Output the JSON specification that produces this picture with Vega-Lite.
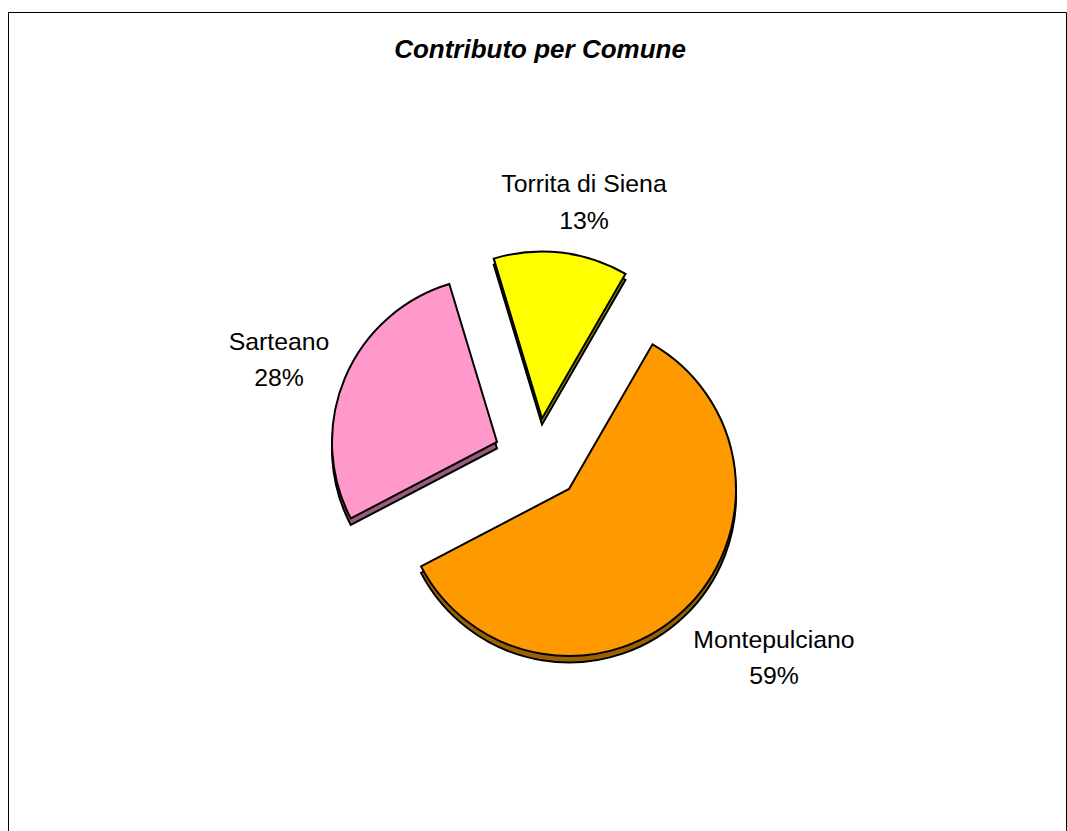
{
"$schema":"https://vega.github.io/schema/vega-lite/v6.json",
"width":1058,"height":819,
"autosize":"none",
"padding":{"left":8,"top":12,"right":1,"bottom":0},
"background":"white",
"view":{"stroke":"black","strokeWidth":1,"fill":"white"},
"title":{"text":"Contributo per Comune","font":"Liberation Sans","fontSize":26,"fontStyle":"italic","fontWeight":"bold","color":"black","offset":-51,"anchor":"middle","dx":3},
"data":{"values":[
{"comune":"Montepulciano","valore":59,"pct":"59%"},
{"comune":"Sarteano","valore":28,"pct":"28%"},
{"comune":"Torrita di Siena","valore":13,"pct":"13%"}
]},
"transform":[{"stack":"valore","sort":[{"field":"valore","order":"descending"}],"groupby":[],"as":["s0","s1"]}],
"layer":[
{"encoding":{
 "theta":{"field":"s0","type":"quantitative","scale":{"domain":[0,100],"range":[0.5236,6.8068]}},
 "theta2":{"field":"s1"}
 },
 "layer":[
 {"transform":[{"filter":"datum.comune==='Montepulciano'"}],"mark":{"type":"arc","outerRadius":167,"xOffset":32,"yOffset":74,"fill":"#996100","stroke":"black","strokeWidth":2}},
 {"transform":[{"filter":"datum.comune==='Montepulciano'"}],"mark":{"type":"arc","outerRadius":167,"xOffset":32,"yOffset":67.5,"fill":"#FF9900","stroke":"black","strokeWidth":2}},
 {"transform":[{"filter":"datum.comune==='Sarteano'"}],"mark":{"type":"arc","outerRadius":165,"xOffset":-40,"yOffset":27,"fill":"#995C7A","stroke":"black","strokeWidth":2}},
 {"transform":[{"filter":"datum.comune==='Sarteano'"}],"mark":{"type":"arc","outerRadius":165,"xOffset":-40,"yOffset":20.5,"fill":"#FF99CC","stroke":"black","strokeWidth":2}},
 {"transform":[{"filter":"datum.comune==='Torrita di Siena'"}],"mark":{"type":"arc","outerRadius":167,"xOffset":5,"yOffset":3,"fill":"#999900","stroke":"black","strokeWidth":2}},
 {"transform":[{"filter":"datum.comune==='Torrita di Siena'"}],"mark":{"type":"arc","outerRadius":167,"xOffset":5,"yOffset":-3,"fill":"#FFFF00","stroke":"black","strokeWidth":2}}
 ]},
{"transform":[{"filter":"datum.comune==='Montepulciano'"}],"mark":{"type":"text","font":"Liberation Sans","fontSize":24.8,"color":"black","xOffset":237,"yOffset":219,"baseline":"middle"},"encoding":{"text":{"field":"comune"}}},
{"transform":[{"filter":"datum.comune==='Montepulciano'"}],"mark":{"type":"text","font":"Liberation Sans","fontSize":24.8,"color":"black","xOffset":237,"yOffset":255,"baseline":"middle"},"encoding":{"text":{"field":"pct"}}},
{"transform":[{"filter":"datum.comune==='Sarteano'"}],"mark":{"type":"text","font":"Liberation Sans","fontSize":24.8,"color":"black","xOffset":-258,"yOffset":-79,"baseline":"middle"},"encoding":{"text":{"field":"comune"}}},
{"transform":[{"filter":"datum.comune==='Sarteano'"}],"mark":{"type":"text","font":"Liberation Sans","fontSize":24.8,"color":"black","xOffset":-258,"yOffset":-43,"baseline":"middle"},"encoding":{"text":{"field":"pct"}}},
{"transform":[{"filter":"datum.comune==='Torrita di Siena'"}],"mark":{"type":"text","font":"Liberation Sans","fontSize":24.8,"color":"black","xOffset":47,"yOffset":-237,"baseline":"middle"},"encoding":{"text":{"field":"comune"}}},
{"transform":[{"filter":"datum.comune==='Torrita di Siena'"}],"mark":{"type":"text","font":"Liberation Sans","fontSize":24.8,"color":"black","xOffset":47,"yOffset":-200,"baseline":"middle"},"encoding":{"text":{"field":"pct"}}}
]
}
